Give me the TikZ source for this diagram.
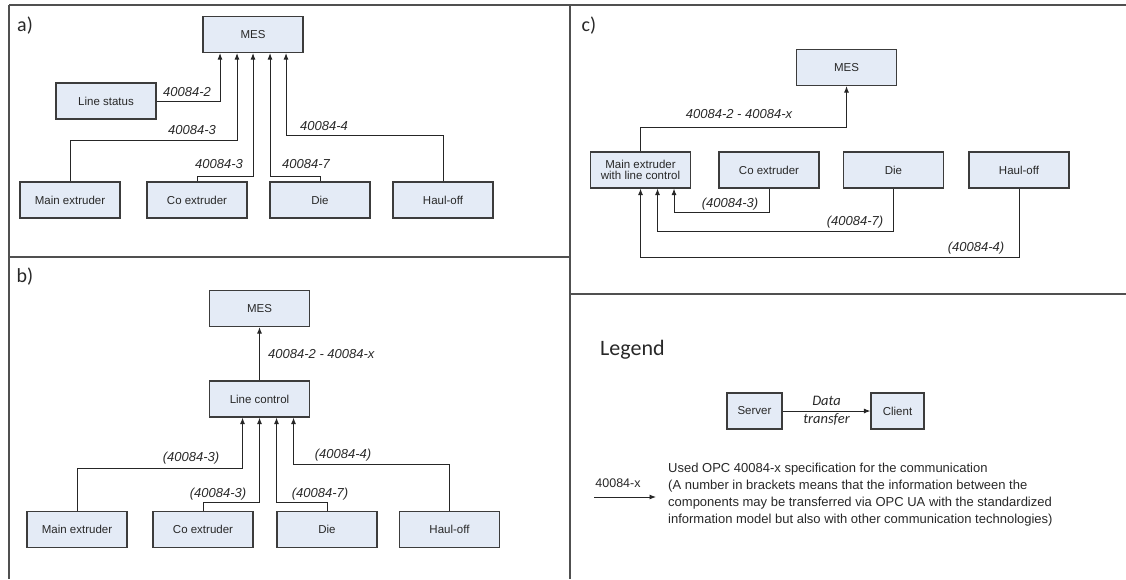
\documentclass[tikz,border=0pt]{standalone}
\usepackage{fontspec}
\setmainfont{Liberation Sans}
\newfontfamily\calfont{Carlito}
\usepackage{tikz}
\usetikzlibrary{positioning,calc}
\usetikzlibrary{arrows.meta}
\definecolor{BoxFill}{RGB}{228,235,246}
\definecolor{BoxLine}{RGB}{60,60,60}
\definecolor{FrameGray}{RGB}{80,80,80}
\definecolor{TextGray}{RGB}{40,40,40}
\tikzset{
  unit/.style={draw=BoxLine,fill=BoxFill,line width=1.2pt,minimum width=100pt,
    minimum height=36pt,inner sep=1pt,align=center,text=TextGray,
    font=\fontsize{11.5}{13}\selectfont},
  flow/.style={draw=black!85,line width=0.9pt,-{Latex[length=6.5pt,width=5pt]}},
  spec/.style={font=\fontsize{13}{15}\selectfont\itshape,text=TextGray,inner sep=0pt},
  panel/.style={font=\calfont\fontsize{20}{22}\selectfont,inner sep=0pt,text=TextGray},
  frame/.style={draw=FrameGray,line width=1.5pt},
}

\begin{document}
\begin{tikzpicture}[x=1pt,y=-1pt]
\useasboundingbox (0,0) rectangle (1126,579);
% frame
\draw[frame] (9,5) -- (1126,5);
\draw[frame] (9,5) -- (9,579);
\draw[frame] (570,5) -- (570,579);
\draw[frame] (9,257) -- (570,257);
\draw[frame] (570,294) -- (1126,294);
\node[panel] (tagA) at (25,26) {a)};
\node[panel] (tagB) at (25,277) {b)};
\node[panel] (tagC) at (589,26) {c)};

% a)
\node[unit] (mesA) at (253,34.5) {MES};
\node[unit] (lsA) at (106,101) {Line status};
\node[unit] (meA) at (70,200) {Main extruder};
\node[unit] (coA) at (197,200) {Co extruder};
\node[unit] (dieA) at (320,200) {Die};
\node[unit] (hoA) at (443,200) {Haul-off};
\draw[flow] (lsA.east) -| ([xshift=-33pt]mesA.south);
\draw[flow] (meA.north) -- ++(0,-41) -| ([xshift=-16pt]mesA.south);
\draw[flow] (coA.north) -- ++(0,-5) -| (mesA.south);
\draw[flow] (dieA.north) -- ++(0,-5) -| ([xshift=17pt]mesA.south);
\draw[flow] (hoA.north) -- ++(0,-46) -| ([xshift=33pt]mesA.south);
\node[spec] at (187,92) {40084-2};
\node[spec] at (192,130) {40084-3};
\node[spec] at (219,164) {40084-3};
\node[spec] at (306,164) {40084-7};
\node[spec] at (324,126) {40084-4};

% b)
\node[unit] (mesB) at (259.5,308.5) {MES};
\node[unit] (lcB) at (259.5,399) {Line control};
\node[unit] (meB) at (77,529.5) {Main extruder};
\node[unit] (coB) at (203,529.5) {Co extruder};
\node[unit] (dieB) at (327,529.5) {Die};
\node[unit] (hoB) at (449.5,529.5) {Haul-off};
\draw[flow] (lcB.north) -- (mesB.south);
\draw[flow] (meB.north) -- ++(0,-42) -| ([xshift=-17pt]lcB.south);
\draw[flow] (coB.north) -- ++(0,-8) -| (lcB.south);
\draw[flow] (dieB.north) -- ++(0,-8) -| ([xshift=17pt]lcB.south);
\draw[flow] (hoB.north) -- ++(0,-46) -| ([xshift=34pt]lcB.south);
\node[spec,anchor=west] at (268,354) {40084-2 - 40084-x};
\node[spec] at (191,458) {(40084-3)};
\node[spec] at (218,494) {(40084-3)};
\node[spec] at (320,494) {(40084-7)};
\node[spec] at (343,455) {(40084-4)};

% c)
\node[unit] (mesC) at (846.5,67.5) {MES};
\node[unit] (mlC) at (640.5,170) {Main extruder\\[-1.5pt]with line control};
\node[unit] (coC) at (769,170) {Co extruder};
\node[unit] (dieC) at (893.5,170) {Die};
\node[unit] (hoC) at (1019,170) {Haul-off};
\draw[flow] (mlC.north) -- ++(0,-24) -| (mesC.south);
\draw[flow] (coC.south) -- ++(0,24) -| ([xshift=33.5pt]mlC.south);
\draw[flow] (dieC.south) -- ++(0,43) -| ([xshift=17pt]mlC.south);
\draw[flow] (hoC.south) -- ++(0,69) -| (mlC.south);
\node[spec] at (739,114) {40084-2 - 40084-x};
\node[spec] at (730,204) {(40084-3)};
\node[spec] at (855,222) {(40084-7)};
\node[spec] at (976,248) {(40084-4)};

% legend
\node[anchor=west,inner sep=0pt,font=\calfont\fontsize{22}{24}\selectfont,text=TextGray] (lgd) at (600,350) {Legend};
\node[unit,minimum width=55pt] (srv) at (754.5,411) {Server};
\node[unit,minimum width=53pt] (cli) at (897.5,411) {Client};
\draw[flow] (srv) -- (cli) node[midway,align=center,inner sep=0pt,
  font=\calfont\fontsize{14.5}{18}\selectfont\itshape,text=TextGray] {Data\\transfer};
\coordinate (la1) at (594,497);
\coordinate (la2) at (656,497);
\draw[flow] (la1) -- (la2);
\node[inner sep=0pt,font=\fontsize{12.5}{14}\selectfont,text=TextGray] at (618,483) {40084-x};
\node[anchor=north west,inner sep=0pt,align=left,text=TextGray,
  font=\fontsize{13}{17}\selectfont] (note) at (668,463)
  {Used OPC 40084-x specification for the communication\\
   (A number in brackets means that the information between the\\
   components may be transferred via OPC UA with the standardized\\
   information model but also with other communication technologies)};
\end{tikzpicture}
\end{document}
